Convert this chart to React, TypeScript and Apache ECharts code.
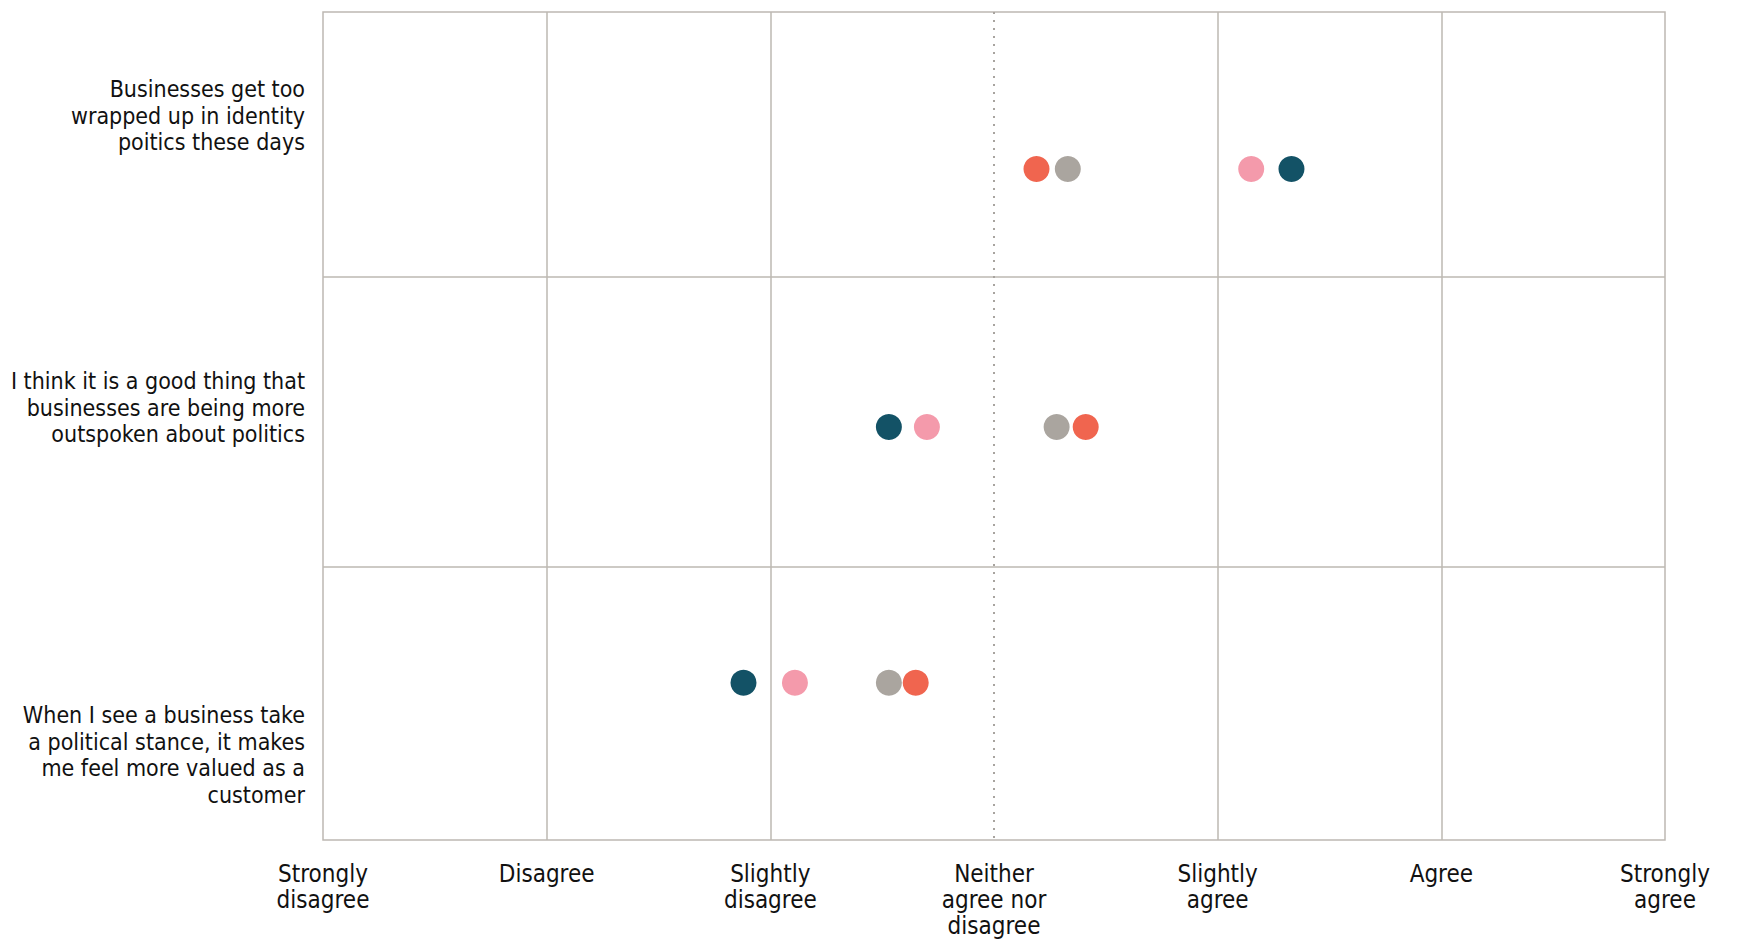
import React, { useEffect, useRef } from "react";
import * as echarts from "echarts";

// Likert scale (x axis, 1..7)
const scaleLabels = [
  "Strongly\ndisagree",
  "Disagree",
  "Slightly\ndisagree",
  "Neither\nagree nor\ndisagree",
  "Slightly\nagree",
  "Agree",
  "Strongly\nagree",
];

// Statements (y axis, top to bottom)
const statements = [
  "Businesses get too\nwrapped up in identity\npoitics these days",
  "I think it is a good thing that\nbusinesses are being more\noutspoken about politics",
  "When I see a business take\na political stance, it makes\nme feel more valued as a\ncustomer",
];
// Row layout in y-axis units (0 = top, 3 = bottom)
const statementLabelPos = [0.376, 1.433, 2.692];
const rowPos = [0.569, 1.504, 2.43];
const rowDividers = [0.957, 2.006];

// Mean agreement per statement, per group
const navyValues = [5.33, 3.53, 2.88];
const pinkValues = [5.15, 3.7, 3.11];
const greyValues = [4.33, 4.28, 3.53];
const redValues = [4.19, 4.41, 3.65];

const seriesDefs = [
  { name: "Group A", color: "#135266", values: navyValues },
  { name: "Group B", color: "#f49aab", values: pinkValues },
  { name: "Group C", color: "#aaa59f", values: greyValues },
  { name: "Group D", color: "#f0654f", values: redValues },
];

const FONT = "'Liberation Sans Narrow', 'DejaVu Sans Condensed', 'Roboto', sans-serif";
const GRID_COLOR = "#bdb8b2";
const TEXT_COLOR = "#111111";

export default function App() {
  const ref = useRef<HTMLDivElement>(null);

  useEffect(() => {
    if (!ref.current) return;
    const chart = echarts.init(ref.current, undefined, { renderer: "svg" });

    const gridLinesData: any[] = [];
    [2, 3, 5, 6].forEach((v) =>
      gridLinesData.push({ xAxis: v, lineStyle: { color: GRID_COLOR, width: 1.5, type: "solid" } })
    );
    rowDividers.forEach((v) =>
      gridLinesData.push({ yAxis: v, lineStyle: { color: GRID_COLOR, width: 1.5, type: "solid" } })
    );
    gridLinesData.push({ xAxis: 4, lineStyle: { color: "#a8a49f", width: 2, type: [2, 6] } });

    const series: any[] = seriesDefs.map((s, i) => ({
      name: s.name,
      type: "scatter",
      symbol: "circle",
      symbolSize: 26,
      itemStyle: { color: s.color, opacity: 1 },
      z: 10 + i,
      data: s.values.map((v, r) => [v, rowPos[r]]),
      ...(i === 0
        ? {
            markLine: {
              silent: true,
              symbol: "none",
              label: { show: false },
              z: 1,
              data: gridLinesData,
            },
          }
        : {}),
    }));

    chart.setOption({
      animation: false,
      backgroundColor: "#ffffff",
      grid: {
        left: 323,
        right: 77,
        top: 12,
        bottom: 99,
        show: true,
        borderColor: GRID_COLOR,
        borderWidth: 1.5,
        backgroundColor: "transparent",
        containLabel: false,
        outerBoundsMode: "none",
      },
      xAxis: {
        type: "value",
        min: 1,
        max: 7,
        interval: 1,
        axisLine: { show: false },
        axisTick: { show: false },
        splitLine: { show: false },
        axisLabel: {
          fontFamily: FONT,
          fontSize: 24,
          lineHeight: 26,
          color: TEXT_COLOR,
          margin: 21,
          align: "center",
          showMinLabel: true,
          showMaxLabel: true,
          formatter: (v: number) => scaleLabels[Math.round(v) - 1] ?? "",
        },
      },
      yAxis: {
        type: "value",
        inverse: true,
        min: 0,
        max: 3,
        axisLine: { show: false },
        axisTick: { show: false },
        splitLine: { show: false },
        axisLabel: {
          customValues: statementLabelPos,
          fontFamily: FONT,
          fontSize: 23,
          lineHeight: 26.5,
          color: TEXT_COLOR,
          margin: 18,
          align: "right",
          verticalAlign: "middle",
          formatter: (v: number) => {
            const idx = statementLabelPos.findIndex((p) => Math.abs(p - v) < 1e-6);
            return idx >= 0 ? statements[idx] : "";
          },
        },
      },
      series,
    });

    return () => chart.dispose();
  }, []);

  return (
    <div
      ref={ref}
      style={{ position: "absolute", left: 0, top: 0, width: 1742, height: 939 }}
    />
  );
}
